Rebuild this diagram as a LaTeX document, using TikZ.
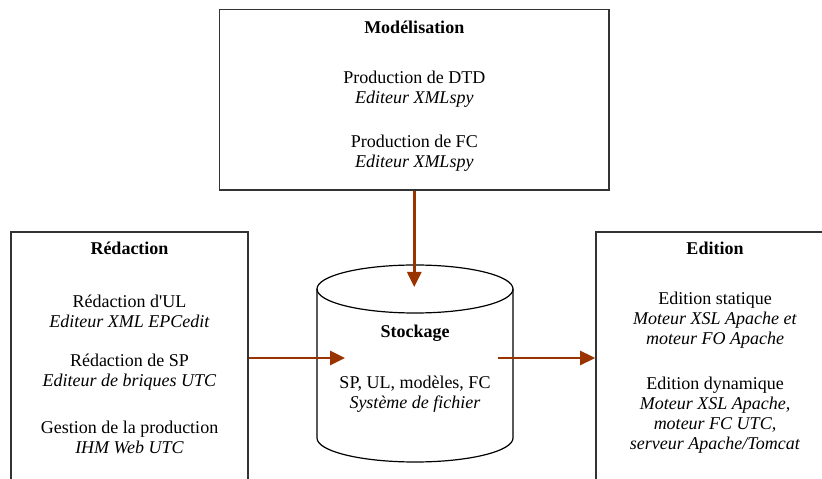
\documentclass[tikz,border=0pt]{standalone}
\usepackage{fontspec}
\setmainfont{Liberation Serif}
\usepackage{xcolor}
\usetikzlibrary{
    arrows.meta,
    positioning
}
\definecolor{flowbrown}{HTML}{993300}
\tikzset{
    block/.style={
        rectangle,
        draw=black!80,
        line width=1.6pt,
        inner sep=0pt
    },
    boxtitle/.style={
        font=\fontsize{18}{20}\selectfont\bfseries,
        inner sep=0pt
    },
    boxtext/.style={
        align=center,
        font=\fontsize{18}{20}\selectfont,
        inner sep=0pt
    },
    flow/.style={
        -{Triangle[length=15pt,width=14pt]},
        line width=2.6pt,
        draw=flowbrown
    },
    drum/.style={
        draw=black,
        line width=1.2pt
    }
}

\begin{document}
\begin{tikzpicture}[x=1pt, y=1pt]
\useasboundingbox (0,0) rectangle (822,479);
\clip (0,0) rectangle (822,479);

% the three boxes (side ones run past the page)
\node[block, minimum width=389.5pt, minimum height=180.5pt] (model) at (414.25,379.25) {};
\node[block, minimum width=237pt, minimum height=267pt] (redac) at (129.5,113.5) {};
\node[block, minimum width=238pt, minimum height=267pt] (edit) at (715,113.5) {};

\node[boxtitle] (modeltitle) at (414.25,452) {Modélisation};
\node[boxtext] (dtd) at (414.25,390) {Production de DTD\\\textit{Editeur XMLspy}};
\node[boxtext] (fc) at (414.25,326) {Production de FC\\\textit{Editeur XMLspy}};

\node[boxtitle] (redactitle) at (129.5,231) {Rédaction};
\node[boxtext] (ul) at (129.5,168) {Rédaction d\textquotesingle UL\\\textit{Editeur XML EPCedit}};
\node[boxtext] (sp) at (129.5,107) {Rédaction de SP\\\textit{Editeur de briques UTC}};
\node[boxtext] (gestion) at (129.5,42) {Gestion de la production\\\textit{IHM Web UTC}};

\node[boxtitle] (edittitle) at (715,231) {Edition};
\node[boxtext] (statique) at (715,159) {Edition statique\\\textit{Moteur XSL Apache et}\\\textit{moteur FO Apache}};
\node[boxtext] (dynamique) at (715,64) {Edition dynamique\\\textit{Moteur XSL Apache,}\\\textit{moteur FC UTC,}\\\textit{serveur Apache/Tomcat}};

% storage drum
\draw[drum] (317,190) -- (317,41) arc[start angle=180, end angle=360, x radius=98, y radius=24] -- (513,190);
\draw[drum] (415,190) ellipse[x radius=98, y radius=24];
\node[boxtitle] (stock) at (415,146) {Stockage};
\node[boxtext] (files) at (415,85) {SP, UL, modèles, FC\\\textit{Système de fichier}};

\coordinate (stocktop) at (414.25,192);
\coordinate (stockin) at (345,121);
\coordinate (stockout) at (498,121);

\draw[flow] (model.south) -- (stocktop);
\draw[flow] (redac.east |- stockin) -- (stockin);
\draw[flow] (stockout) -- (edit.west |- stockout);
\end{tikzpicture}
\end{document}
